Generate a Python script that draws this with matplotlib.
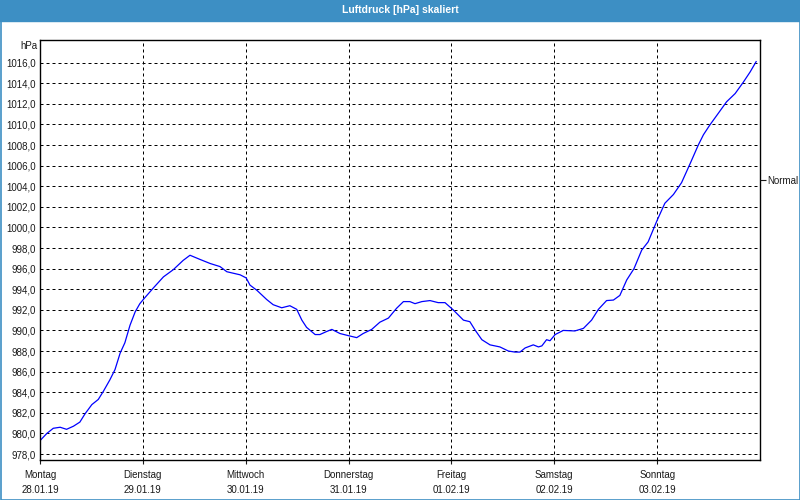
import matplotlib
matplotlib.use("Agg")
import matplotlib.pyplot as plt
from matplotlib.patches import Rectangle
from matplotlib.ticker import FuncFormatter

# ------------------------------
# Data (hours since Montag 00:00, pressure in hPa)
# ------------------------------
hours = [0, 1.6, 3.1, 4.7, 6.2, 7.8, 9.3, 10.5, 12.1, 13.6, 14.8, 16.3, 17.5,
         18.7, 19.8, 21.0, 22.2, 23.3, 24.3, 26.4, 28.8, 31.1, 33.4, 35.0,
         37.3, 39.7, 42.0, 43.6, 46.7, 48.1, 49.0, 50.6, 52.9, 54.4, 56.4,
         58.3, 59.9, 61.1, 62.2, 64.2, 65.3, 66.9, 68.1, 70.0, 71.9, 73.9,
         75.4, 77.4, 79.3, 81.3, 83.2, 84.8, 86.3, 87.5, 89.1, 91.0, 92.9,
         94.5, 96.4, 97.6, 98.8, 100.3, 101.5, 103.1, 105.0, 107.3, 109.3,
         110.8, 112.0, 113.2, 115.1, 116.3, 117.1, 118.2, 119.0, 120.2, 122.1,
         124.8, 126.8, 128.7, 130.3, 132.2, 133.8, 135.3, 136.9, 138.6, 140.4,
         141.9, 143.9, 145.8, 147.8, 149.7, 151.7, 153.6, 154.8, 156.3, 158.3,
         160.2, 162.2, 164.1, 165.7, 167.1]
pressure = [979.3, 980.0, 980.5, 980.6, 980.4, 980.7, 981.1, 981.9, 982.8,
            983.3, 984.1, 985.2, 986.2, 987.8, 988.8, 990.5, 991.8, 992.6,
            993.1, 994.1, 995.2, 995.9, 996.8, 997.3, 996.9, 996.5, 996.2,
            995.7, 995.4, 995.1, 994.4, 993.9, 993.0, 992.5, 992.2, 992.4,
            992.05, 991.0, 990.3, 989.6, 989.6, 989.9, 990.1, 989.7, 989.5,
            989.3, 989.7, 990.1, 990.8, 991.2, 992.15, 992.8, 992.8, 992.6,
            992.8, 992.9, 992.7, 992.7, 992.0, 991.5, 991.0, 990.85, 990.05,
            989.1, 988.6, 988.4, 988.0, 987.9, 987.9, 988.3, 988.6, 988.4,
            988.5, 989.1, 989.0, 989.6, 990.0, 989.95, 990.2, 991.0, 992.05,
            992.9, 992.95, 993.4, 994.9, 996.0, 997.8, 998.6, 1000.6, 1002.35,
            1003.2, 1004.35, 1006.2, 1008.0, 1009.0, 1009.95, 1011.1, 1012.2,
            1013.0, 1014.1, 1015.1, 1016.1]

day_names = ["Montag", "Dienstag", "Mittwoch", "Donnerstag", "Freitag",
             "Samstag", "Sonntag"]
day_dates = ["28.01.19", "29.01.19", "30.01.19", "31.01.19", "01.02.19",
             "02.02.19", "03.02.19"]
y_ticks = list(range(978, 1017, 2))
normal_level = 1004.6

title = "Luftdruck [hPa] skaliert"
frame_blue = "#3d8fc4"
text_col = "#1a1a1a"

# ------------------------------
# Figure and frame
# ------------------------------
plt.rcParams['font.family'] = ['Liberation Sans', 'DejaVu Sans']
fig = plt.figure(figsize=(8, 5), dpi=100)
fig.patch.set_facecolor("white")

fig.patches.append(Rectangle((0, 1 - 21 / 500), 1, 21 / 500,
                             transform=fig.transFigure, color=frame_blue,
                             zorder=0))
fig.patches.append(Rectangle((0.5 / 800, 0.5 / 500), 1 - 1 / 800, 1 - 1 / 500,
                             transform=fig.transFigure, fill=False,
                             edgecolor=frame_blue, lw=1.2, zorder=0))
fig.text(0.5, 1 - 10 / 500, title, ha="center", va="center",
         color="white", fontsize=7.5, fontweight="bold")

ax = fig.add_axes([40 / 800, 40 / 500, 720 / 800, 420 / 500])
ax.plot(hours, pressure, color="#0000ff", lw=0.9)

ax.set_xlim(0, 168)
ax.set_ylim(977.42, 1018.2)

ax.set_xticks([24 * i for i in range(7)])
ax.set_xticklabels([f"{n}\n{d}" for n, d in zip(day_names, day_dates)],
                   linespacing=1.6)
ax.set_yticks(y_ticks)
ax.yaxis.set_major_formatter(
    FuncFormatter(lambda v, p: f"{v:.1f}".replace(".", ",")))
ax.tick_params(axis="y", length=0, pad=3, labelsize=7, colors=text_col)
ax.tick_params(axis="x", length=3, width=0.8, pad=4, labelsize=7,
               colors=text_col)

ax.grid(True, color="black", lw=0.72, linestyle=(0, (3, 3)))
for s in ax.spines.values():
    s.set_linewidth(1.0)
    s.set_color("black")

ax.text(-0.004, 1017.65, "hPa", transform=ax.get_yaxis_transform(),
        ha="right", va="center", fontsize=7, color=text_col)

ax2 = ax.twinx()
ax2.set_ylim(ax.get_ylim())
ax2.set_yticks([normal_level])
ax2.set_yticklabels(["Normal"])
ax2.tick_params(axis="y", length=4, width=0.8, pad=1, labelsize=7,
                colors=text_col)
for s in ax2.spines.values():
    s.set_visible(False)

fig.savefig("out.png", dpi=100, facecolor=fig.get_facecolor())
